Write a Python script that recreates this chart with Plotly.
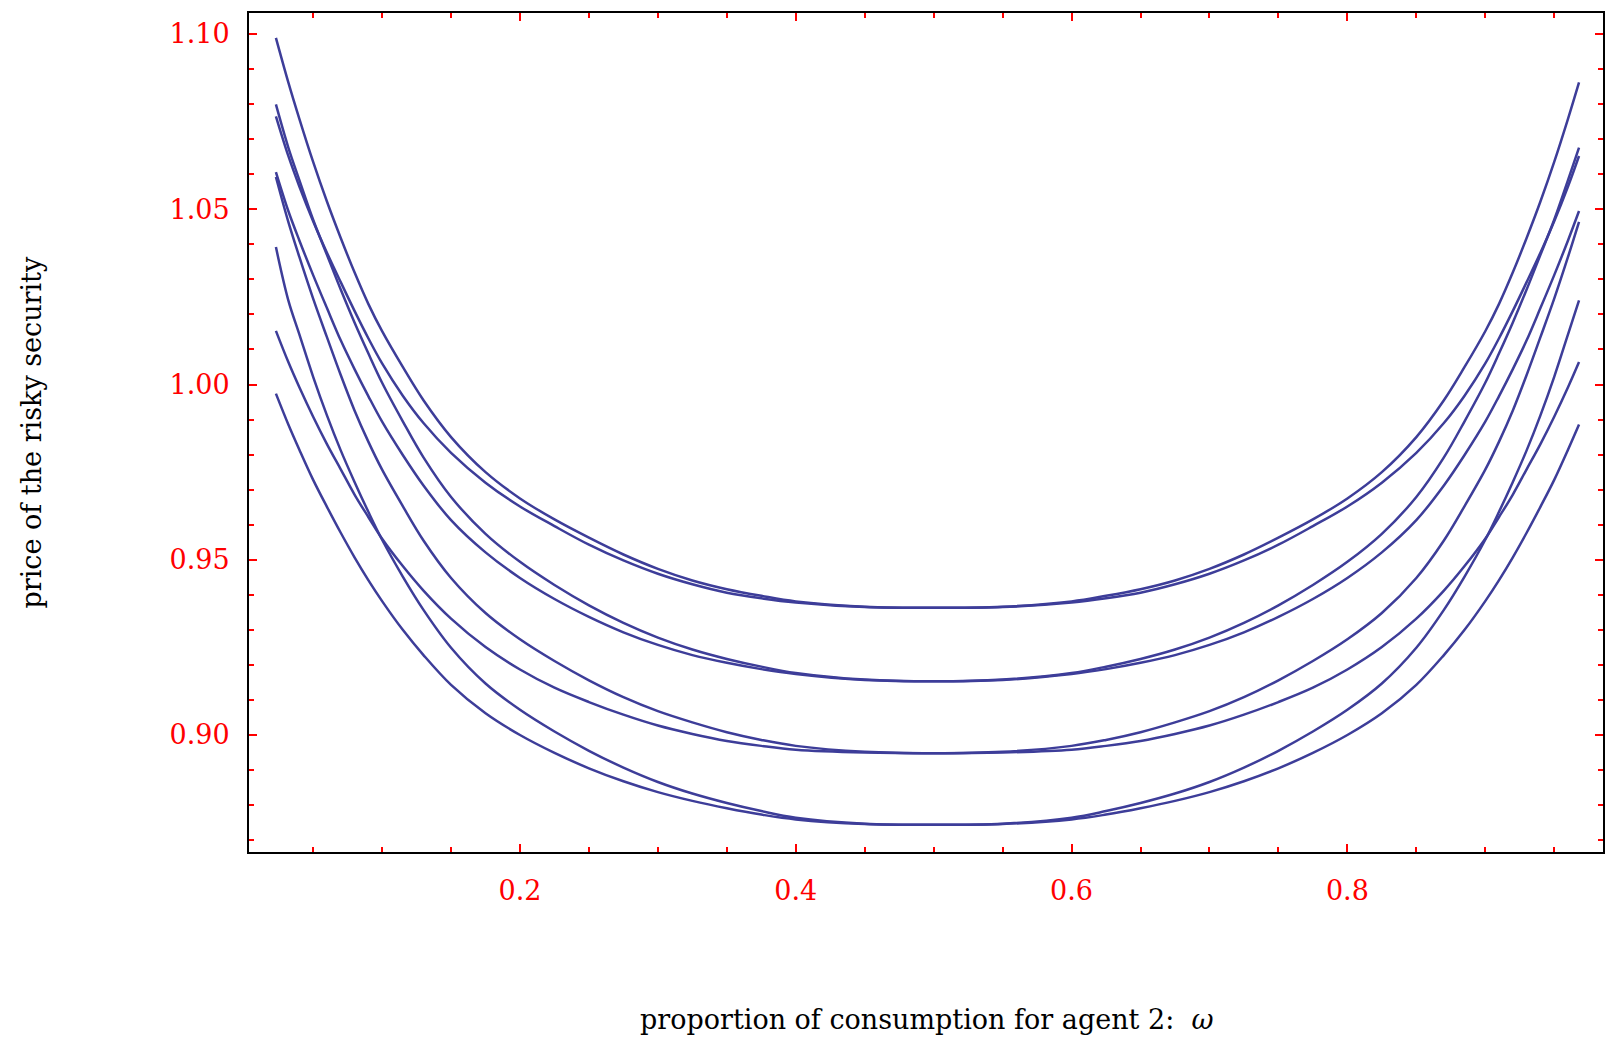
import plotly.graph_objects as go

# proportion of consumption for agent 2
omega = [0.023, 0.032, 0.04, 0.05, 0.06, 0.07, 0.08, 0.09, 0.10, 0.115, 0.13, 0.15, 0.175, 0.20, 0.225, 0.25,
         0.275, 0.30, 0.325, 0.35, 0.375, 0.40, 0.45, 0.50, 0.55, 0.60, 0.625, 0.65, 0.675, 0.70, 0.725, 0.75,
         0.775, 0.80, 0.825, 0.85, 0.87, 0.885, 0.90, 0.91, 0.92, 0.93, 0.94, 0.95, 0.96, 0.968]

price_a_hi = [1.0989, 1.0862, 1.0758, 1.0635, 1.0522, 1.0418, 1.0320, 1.0230, 1.0152, 1.0050, 0.9955, 0.9850,
              0.9750, 0.9675, 0.9615, 0.9563, 0.9515, 0.9474, 0.9441, 0.9416, 0.9397, 0.9381, 0.9366, 0.9363,
              0.9366, 0.9381, 0.9397, 0.9416, 0.9441, 0.9474, 0.9515, 0.9563, 0.9615, 0.9675, 0.9750, 0.9850,
              0.9955, 1.0050, 1.0152, 1.0230, 1.0320, 1.0418, 1.0522, 1.0635, 1.0758, 1.0862]
price_a_lo = [1.0765, 1.0652, 1.0565, 1.0466, 1.0376, 1.0292, 1.0210, 1.0132, 1.0060, 0.9968, 0.9890, 0.9805,
              0.9720, 0.9652, 0.9596, 0.9543, 0.9498, 0.9460, 0.9430, 0.9406, 0.9390, 0.9378, 0.9365, 0.9363,
              0.9365, 0.9378, 0.9390, 0.9406, 0.9430, 0.9460, 0.9498, 0.9543, 0.9596, 0.9652, 0.9720, 0.9805,
              0.9890, 0.9968, 1.0060, 1.0132, 1.0210, 1.0292, 1.0376, 1.0466, 1.0565, 1.0652]
price_b_hi = [1.0799, 1.0676, 1.0583, 1.0470, 1.0370, 1.0271, 1.0177, 1.0089, 1.0005, 0.9895, 0.9792, 0.9679,
              0.9574, 0.9494, 0.9428, 0.9370, 0.9320, 0.9278, 0.9244, 0.9217, 0.9195, 0.9177, 0.9158, 0.9153,
              0.9158, 0.9177, 0.9195, 0.9217, 0.9244, 0.9278, 0.9320, 0.9370, 0.9428, 0.9494, 0.9574, 0.9679,
              0.9792, 0.9895, 1.0005, 1.0089, 1.0177, 1.0271, 1.0370, 1.0470, 1.0583, 1.0676]
price_b_lo = [1.0606, 1.0495, 1.0411, 1.0312, 1.0218, 1.0126, 1.0044, 0.9967, 0.9894, 0.9799, 0.9712, 0.9613,
              0.9521, 0.9448, 0.9388, 0.9337, 0.9293, 0.9257, 0.9228, 0.9206, 0.9188, 0.9174, 0.9157, 0.9153,
              0.9157, 0.9174, 0.9188, 0.9206, 0.9228, 0.9257, 0.9293, 0.9337, 0.9388, 0.9448, 0.9521, 0.9613,
              0.9712, 0.9799, 0.9894, 0.9967, 1.0044, 1.0126, 1.0218, 1.0312, 1.0411, 1.0495]
price_c_hi = [1.0592, 1.0464, 1.0364, 1.0245, 1.0135, 1.0027, 0.9926, 0.9837, 0.9757, 0.9653, 0.9555, 0.9448,
              0.9348, 0.9273, 0.9211, 0.9156, 0.9108, 0.9068, 0.9036, 0.9008, 0.8986, 0.8969, 0.8952, 0.8948,
              0.8952, 0.8969, 0.8986, 0.9008, 0.9036, 0.9068, 0.9108, 0.9156, 0.9211, 0.9273, 0.9348, 0.9448,
              0.9555, 0.9653, 0.9757, 0.9837, 0.9926, 1.0027, 1.0135, 1.0245, 1.0364, 1.0464]
price_c_lo = [1.0153, 1.0064, 0.9992, 0.9908, 0.9830, 0.9758, 0.9686, 0.9622, 0.9560, 0.9482, 0.9412, 0.9332,
              0.9251, 0.9187, 0.9135, 0.9094, 0.9058, 0.9027, 0.9003, 0.8983, 0.8969, 0.8958, 0.8950, 0.8948,
              0.8950, 0.8958, 0.8969, 0.8983, 0.9003, 0.9027, 0.9058, 0.9094, 0.9135, 0.9187, 0.9251, 0.9332,
              0.9412, 0.9482, 0.9560, 0.9622, 0.9686, 0.9758, 0.9830, 0.9908, 0.9992, 1.0064]
price_d_hi = [1.0392, 1.0240, 1.0143, 1.0022, 0.9912, 0.9812, 0.9722, 0.9637, 0.9557, 0.9452, 0.9357, 0.9249,
              0.9147, 0.9072, 0.9010, 0.8955, 0.8907, 0.8866, 0.8833, 0.8806, 0.8783, 0.8764, 0.8747, 0.8744,
              0.8747, 0.8764, 0.8783, 0.8806, 0.8833, 0.8866, 0.8907, 0.8955, 0.9010, 0.9072, 0.9147, 0.9249,
              0.9357, 0.9452, 0.9557, 0.9637, 0.9722, 0.9812, 0.9912, 1.0022, 1.0143, 1.0240]
price_d_lo = [0.9974, 0.9886, 0.9814, 0.9728, 0.9651, 0.9577, 0.9507, 0.9442, 0.9382, 0.9300, 0.9228, 0.9143,
              0.9062, 0.9000, 0.8949, 0.8905, 0.8868, 0.8837, 0.8812, 0.8791, 0.8773, 0.8759, 0.8746, 0.8744,
              0.8746, 0.8759, 0.8773, 0.8791, 0.8812, 0.8837, 0.8868, 0.8905, 0.8949, 0.9000, 0.9062, 0.9143,
              0.9228, 0.9300, 0.9382, 0.9442, 0.9507, 0.9577, 0.9651, 0.9728, 0.9814, 0.9886]

series = [price_a_hi, price_a_lo, price_b_hi, price_b_lo, price_c_hi, price_c_lo, price_d_hi, price_d_lo]

x_tickvals = [0.2, 0.4, 0.6, 0.8]
x_ticktext = ["0.2", "0.4", "0.6", "0.8"]
y_tickvals = [0.90, 0.95, 1.00, 1.05, 1.10]
y_ticktext = ["0.90", "0.95", "1.00", "1.05", "1.10"]

x_title = "proportion of consumption for agent 2:  <i>ω</i>"
y_title = "price of the risky security"

LINE = "#3d3d99"
SERIF = "DejaVu Serif"

fig = go.Figure()
for s in series:
    fig.add_trace(go.Scatter(x=omega, y=s, mode="lines",
                             line=dict(color=LINE, width=2.5, shape="spline", smoothing=1.0),
                             showlegend=False, hoverinfo="skip"))

axis_common = dict(
    showgrid=False, zeroline=False, showline=True, linecolor="black", linewidth=2,
    mirror="allticks", ticks="inside", ticklen=8, tickwidth=2, tickcolor="red",
    tickfont=dict(family=SERIF, size=27, color="red"),
)

fig.update_xaxes(range=[0.00348, 0.98538], tickmode="array", tickvals=x_tickvals, ticktext=x_ticktext,
                 minor=dict(tick0=0, dtick=0.05, ticks="inside", ticklen=5, tickwidth=2, tickcolor="red"),
                 ticklabelstandoff=14, **axis_common)
fig.update_yaxes(range=[0.86662, 1.10599], tickmode="array", tickvals=y_tickvals, ticktext=y_ticktext,
                 minor=dict(tick0=0, dtick=0.01, ticks="inside", ticklen=5, tickwidth=2, tickcolor="red"),
                 ticklabelstandoff=12, **axis_common)

fig.update_layout(
    width=1606, height=1037,
    margin=dict(l=249, r=1, t=13, b=185),
    plot_bgcolor="white", paper_bgcolor="white",
    annotations=[
        dict(text=x_title, xref="paper", yref="paper", x=0.5, y=0, xanchor="center", yanchor="middle",
             yshift=-167, showarrow=False, font=dict(family=SERIF, size=27, color="black")),
        dict(text=y_title, xref="paper", yref="paper", x=0, y=0.5, xanchor="center", yanchor="middle",
             xshift=-218, textangle=-90, showarrow=False, font=dict(family=SERIF, size=27, color="black")),
    ],
)

fig.write_html("out.html")
